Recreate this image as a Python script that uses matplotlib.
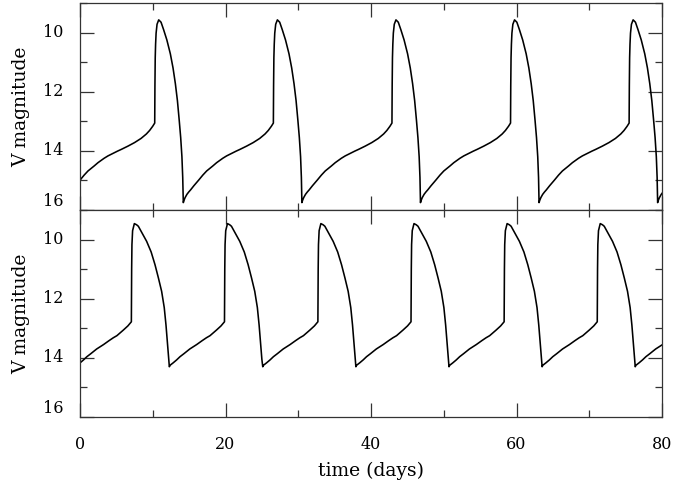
import numpy as np
import matplotlib
matplotlib.use("Agg")
import matplotlib.pyplot as plt
from matplotlib.ticker import MultipleLocator

# ---- data ----
# Top panel: one light-curve cycle (days after minimum, V magnitude)
top_dt = [0.00, 0.10, 0.25, 0.50, 0.75, 1.00, 1.45, 2.11, 2.68, 3.21, 4.06, 4.58,
          5.43, 5.96, 7.26, 7.79, 8.70, 9.61, 10.50, 11.23, 11.68, 12.10, 12.38,
          12.41, 12.45, 12.50, 12.57, 12.70, 12.93, 13.25, 13.60, 14.05, 14.53,
          14.90, 15.22, 15.50, 15.75, 15.95, 16.12, 16.23]
top_mag = [15.75, 15.67, 15.58, 15.47, 15.39, 15.32, 15.18, 14.99, 14.82, 14.68,
           14.51, 14.40, 14.25, 14.17, 14.01, 13.95, 13.84, 13.72, 13.58, 13.43,
           13.31, 13.17, 13.06, 11.80, 10.85, 10.40, 10.02, 9.72, 9.57, 9.65,
           9.90, 10.25, 10.72, 11.20, 11.73, 12.30, 12.97, 13.55, 14.20, 14.90]
top_minima = [-2.11, 14.2, 30.5, 46.8, 63.1, 79.4, 95.7]

# Bottom panel: one cycle (days after minimum, V magnitude)
bot_dt = [0.00, 0.10, 0.52, 1.00, 1.47, 2.00, 2.81, 3.76, 4.50, 5.10, 5.59, 6.48,
          7.10, 7.58, 7.62, 7.66, 7.75, 7.99, 8.30, 8.54, 9.10, 9.68, 10.30,
          10.83, 11.30, 11.74, 12.10, 12.34, 12.57, 12.72]
bot_mag = [14.30, 14.25, 14.17, 14.07, 13.96, 13.86, 13.70, 13.55, 13.42, 13.32,
           13.25, 13.06, 12.92, 12.78, 11.00, 10.17, 9.70, 9.46, 9.50, 9.55,
           9.80, 10.06, 10.42, 10.85, 11.30, 11.75, 12.30, 12.89, 13.57, 14.05]
bot_minima = [-0.52, 12.28, 25.12, 37.92, 50.72, 63.52, 76.32, 89.12]

x_ticks = [0, 20, 40, 60, 80]
y_ticks = [10, 12, 14, 16]


def build(dt, mag, minima):
    t = np.concatenate([np.asarray(dt) + m for m in minima])
    v = np.concatenate([np.asarray(mag) for _ in minima])
    return t, v


plt.rcParams['font.family'] = ['DejaVu Serif']
plt.rcParams['font.size'] = 11.5

fig = plt.figure(figsize=(6.75, 4.87), dpi=100)
L, W = 80 / 675, 582 / 675
ax1 = fig.add_axes([L, 1 - 210 / 487, W, 207 / 487])
ax2 = fig.add_axes([L, 1 - 417 / 487, W, 207 / 487])

spine_col = '#333333'
for ax, (dt, mag, minima) in zip(
        (ax1, ax2), ((top_dt, top_mag, top_minima), (bot_dt, bot_mag, bot_minima))):
    t, v = build(dt, mag, minima)
    ax.plot(t, v, color='black', lw=1.15)
    ax.set_xlim(0, 80)
    ax.set_ylim(16, 9.0)
    ax.set_xticks(x_ticks)
    ax.xaxis.set_minor_locator(MultipleLocator(10))
    ax.set_yticks(y_ticks)
    ax.yaxis.set_minor_locator(MultipleLocator(1))
    ax.tick_params(which='both', direction='in', top=True, right=True,
                   color=spine_col, width=0.9, labelsize=11.5)
    ax.tick_params(which='major', length=10)
    ax.tick_params(which='minor', length=5)
    ax.tick_params(axis='y', pad=12)
    ax.tick_params(axis='x', pad=14)
    for s in ax.spines.values():
        s.set_color(spine_col)
        s.set_linewidth(0.9)
    ax.set_ylabel('V magnitude', fontsize=13.5, labelpad=9)
    for tk in ax.yaxis.get_major_ticks():
        tk.label1.set_va('center')
    ax.yaxis.get_major_ticks()[-1].label1.set_va('bottom')

ax1.tick_params(axis='x', labelbottom=False)
ax2.set_xlabel('time (days)', fontsize=13.5, labelpad=6)

fig.savefig('out.png', dpi=100)
